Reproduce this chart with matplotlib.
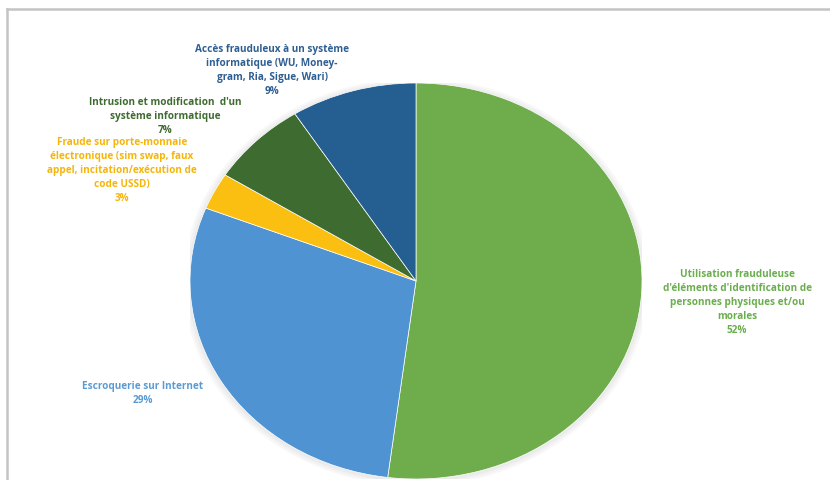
import matplotlib
matplotlib.use("Agg")
import matplotlib.pyplot as plt
from matplotlib.patches import Ellipse
from matplotlib.lines import Line2D

categories = [
    "Utilisation frauduleuse\nd'éléments d'identification de\npersonnes physiques et/ou\nmorales",
    "Escroquerie sur Internet",
    "Fraude sur porte-monnaie\nélectronique (sim swap, faux\nappel, incitation/exécution de\ncode USSD)",
    "Intrusion et modification  d'un\nsystème informatique",
    "Accès frauduleux à un système\ninformatique (WU, Money-\ngram, Ria, Sigue, Wari)",
]
values = [52, 29, 3, 7, 9]
colors = ["#6FAD4C", "#4F93D2", "#FBBF12", "#3E6B2F", "#255E91"]
label_colors = ["#6AAE4E", "#5A9BD5", "#F5B50A", "#3E6B2F", "#2E5F92"]
# label centres in pixels (x, y of first line from top)
label_pos = [(737, 275), (143, 387), (122, 143), (165, 103), (272, 50)]

W, H = 830, 480
fig = plt.figure(figsize=(W / 100, H / 100), dpi=100)
fig.patch.set_facecolor("white")

# frame lines
fig.add_artist(Line2D([7 / W, 7 / W], [0, 1 - 9 / H], color="#C4C4C4", lw=1.8,
                      transform=fig.transFigure))
fig.add_artist(Line2D([7 / W, 1], [1 - 9 / H, 1 - 9 / H], color="#C4C4C4", lw=1.8,
                      transform=fig.transFigure))

cx, cy, rx, ry = 416, 281, 226, 198
ax = fig.add_axes([(cx - rx) / W, (H - cy - ry) / H, 2 * rx / W, 2 * ry / H])
# soft shadow
for i, a in enumerate([0.05, 0.05, 0.06]):
    s = 1.03 - i * 0.01
    ax.add_patch(Ellipse((0, -0.005), 2 * s, 2 * s, color="#888888",
                         alpha=a, lw=0, zorder=0))
wedges, _ = ax.pie(values, colors=colors, startangle=90, counterclock=False,
                   wedgeprops=dict(edgecolor="white", linewidth=0.5))
for w in wedges:
    w.set_zorder(2)
ax.set_aspect("auto")
ax.set_xlim(-1, 1)
ax.set_ylim(-1, 1)
ax.set_axis_off()

for cat, v, col, (x, y) in zip(categories, values, label_colors, label_pos):
    fig.text(x / W, 1 - (y - 6) / H, f"{cat}\n{v}%", ha="center", va="top",
             color=col, fontsize=7.2, fontweight="bold", family="Open Sans",
             linespacing=1.36)

fig.savefig("out.png", dpi=100)
